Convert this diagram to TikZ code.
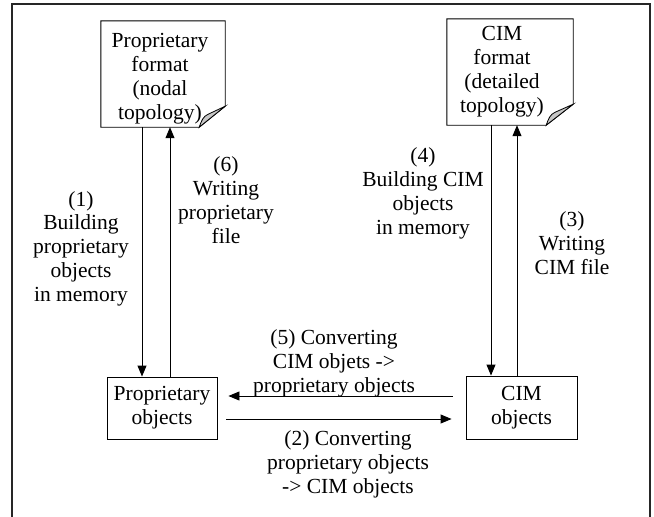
\documentclass[tikz,border=0pt]{standalone}
\usepackage{fontspec}
\setmainfont{Liberation Serif}
\usetikzlibrary{arrows.meta,calc}
\begin{document}
\begin{tikzpicture}[x=1pt,y=-1pt,
  every node/.style={font=\fontsize{21.5}{23.7}\selectfont, inner sep=0pt},
  boxnode/.style={draw=black, line width=0.9pt, align=center},
  docnode/.style={draw=none},
  lbl/.style={align=center, anchor=base},
  arr/.style={line width=0.9pt, -{Triangle[length=11pt,width=9pt]}},
  outline/.style={line width=0.9pt, fill=white},
  foldfill/.style={line width=0.8pt, fill=gray!45}]
\useasboundingbox (0,0) rectangle (654,517);
% frame
\draw[line width=1.3pt, draw=black!85] (12,517) -- (12,4) -- (650,4) -- (650,517);

% documents
\node[docnode, minimum width=124pt, minimum height=106pt] (pdoc) at (163,74) {};
\node[docnode, minimum width=126pt, minimum height=106pt] (cdoc) at (510,72) {};
\draw[outline] (pdoc.north west) -- (pdoc.north east) -- ($(pdoc.south east)+(0,-21)$)
  -- ($(pdoc.south east)+(-26,0)$) -- (pdoc.south west) -- cycle;
\draw[foldfill] ($(pdoc.south east)+(0,-21)$) -- ($(pdoc.south east)+(-26,0)$)
  .. controls ($(pdoc.south east)+(-24,-6)$) and ($(pdoc.south east)+(-22,-11)$) .. ($(pdoc.south east)+(-17,-13)$) -- cycle;
\draw[outline] (cdoc.north west) -- (cdoc.north east) -- ($(cdoc.south east)+(0,-21)$)
  -- ($(cdoc.south east)+(-27,0)$) -- (cdoc.south west) -- cycle;
\draw[foldfill] ($(cdoc.south east)+(0,-21)$) -- ($(cdoc.south east)+(-27,0)$)
  .. controls ($(cdoc.south east)+(-25,-6)$) and ($(cdoc.south east)+(-23,-11)$) .. ($(cdoc.south east)+(-18,-13)$) -- cycle;
\node[lbl] (pdoctext) at (160,119) {Proprietary\\format\\(nodal\\topology)};
\node[lbl] (cdoctext) at (502,112) {CIM\\format\\(detailed\\topology)};

% object boxes
\node[boxnode, minimum width=110pt, minimum height=62pt] (pobj) at (162,408) {Proprietary\\objects};
\node[boxnode, minimum width=111pt, minimum height=63pt] (cobj) at (521.5,407.5) {CIM\\objects};

% helper coordinates
\coordinate (la) at (142,0);
\coordinate (lb) at (170,0);
\coordinate (ra) at (491,0);
\coordinate (rb) at (517,0);
\coordinate (hu) at (0,396);
\coordinate (hl) at (0,419);

% connectors
\draw[arr] (pdoc.south -| la) -- (pobj.north -| la);
\draw[arr] (pobj.north -| lb) -- (pdoc.south -| lb);
\draw[arr] (cdoc.south -| ra) -- (cobj.north -| ra);
\draw[arr] (cobj.north -| rb) -- (cdoc.south -| rb);
\draw[arr, shorten <=13pt, shorten >=11pt] (cobj.west |- hu) -- (pobj.east |- hu);
\draw[arr, shorten <=9pt, shorten >=14pt] (pobj.east |- hl) -- (cobj.west |- hl);

% labels
\node[lbl] (l1) at (81,301) {(1)\\Building\\proprietary\\objects\\in memory};
\node[lbl] (l6) at (226,243) {(6)\\Writing\\proprietary\\file};
\node[lbl] (l4) at (423,234) {(4)\\Building CIM\\objects\\in memory};
\node[lbl] (l3) at (572,274) {(3)\\Writing\\CIM file};
\node[lbl] (l5) at (334,392) {(5) Converting\\CIM objets ->\\proprietary objects};
\node[lbl] (l2) at (348,493) {(2) Converting\\proprietary objects\\-> CIM objects};
\end{tikzpicture}
\end{document}
